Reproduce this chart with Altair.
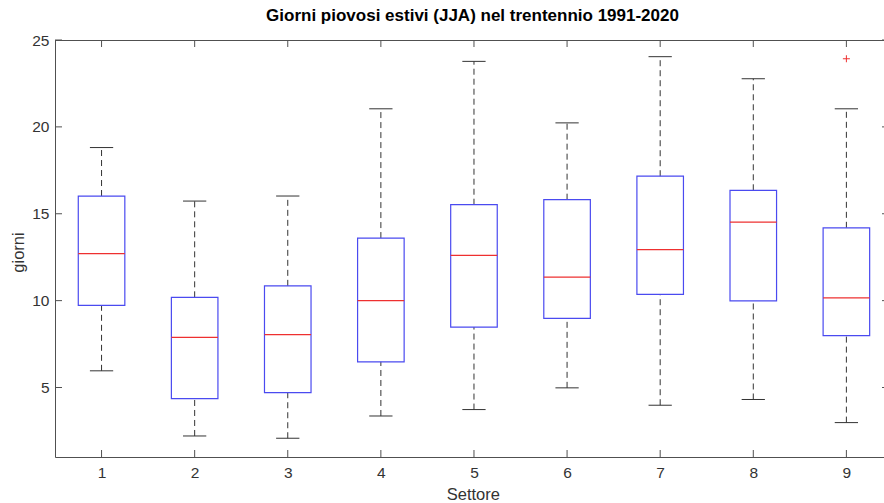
import altair as alt
import pandas as pd

# ---- data ----
settore = [1, 2, 3, 4, 5, 6, 7, 8, 9]
baffo_inf = [5.96, 2.21, 2.08, 3.36, 3.73, 4.98, 3.98, 4.31, 2.98]
q1 = [9.73, 4.36, 4.71, 6.48, 8.48, 8.98, 10.36, 9.98, 7.98]
mediana = [12.71, 7.88, 8.04, 10.0, 12.61, 11.35, 12.94, 14.52, 10.16]
q3 = [16.02, 10.19, 10.85, 13.6, 15.52, 15.81, 17.16, 16.35, 14.19]
baffo_sup = [18.81, 15.73, 16.02, 21.04, 23.77, 20.23, 24.04, 22.77, 21.04]
outlier_settore = [9]
outlier_valore = [23.92]
x_ticks = [1, 2, 3, 4, 5, 6, 7, 8, 9]
y_ticks = [5, 10, 15, 20, 25]

W, H = 829, 417
FONT = "Liberation Sans"
AX = "#505050"
TXT = "#333333"

df = pd.DataFrame({
    "settore": settore, "lo": baffo_inf, "q1": q1,
    "med": mediana, "q3": q3, "hi": baffo_sup,
})
df_out = pd.DataFrame({"settore": outlier_settore, "v": outlier_valore})

xs = alt.Scale(domain=[0.5, 9.404], nice=False, zero=False)
ys = alt.Scale(domain=[1, 25], nice=False, zero=False)

xax = alt.Axis(values=x_ticks, format="d", title="Settore", tickSize=0, grid=False,
               labelPadding=8, labelFontSize=15.5, labelFont=FONT, labelColor=TXT,
               domainColor=AX, titleFont=FONT, titleFontSize=16.5, titleFontWeight="normal",
               titleColor=TXT, titleX=417.8, titleY=42, titleBaseline="alphabetic",
               titleAnchor="start", titleAlign="center")
yax = alt.Axis(values=y_ticks, format="d", title="giorni", tickSize=0, grid=False,
               labelPadding=6, labelFontSize=15.5, labelFont=FONT, labelColor=TXT,
               domainColor=AX, titleFont=FONT, titleFontSize=16.5, titleFontWeight="normal",
               titleColor=TXT, titleX=-29, titleY=212, titleAngle=270,
               titleBaseline="bottom", titleAlign="center")


def X(field):
    return alt.X(field, scale=xs, axis=xax)


def Y(field):
    return alt.Y(field, scale=ys, axis=yax)


base = alt.Chart(df).transform_calculate(
    xl="datum.settore - 0.25", xr="datum.settore + 0.25",
    cl="datum.settore - 0.125", cr="datum.settore + 0.125",
)

upper = base.mark_rule(strokeDash=[6, 4], color="#333333", strokeWidth=1).encode(
    x=X("settore:Q"), y=Y("q3:Q"), y2="hi:Q",
)
lower = base.mark_rule(strokeDash=[6, 4], color="#333333", strokeWidth=1).encode(
    x=X("settore:Q"), y=Y("lo:Q"), y2="q1:Q",
)
cap_hi = base.mark_rule(color="#333333", strokeWidth=1).encode(
    x=X("cl:Q"), x2="cr:Q", y=Y("hi:Q"),
)
cap_lo = base.mark_rule(color="#333333", strokeWidth=1).encode(
    x=X("cl:Q"), x2="cr:Q", y=Y("lo:Q"),
)
box = base.mark_rect(filled=False, stroke="#4a4af0", strokeWidth=1.2).encode(
    x=X("xl:Q"), x2="xr:Q", y=Y("q1:Q"), y2="q3:Q",
)
med = base.mark_rule(color="#ee3030", strokeWidth=1.2).encode(
    x=X("xl:Q"), x2="xr:Q", y=Y("med:Q"),
)
out = alt.Chart(df_out).mark_point(
    shape="M-1,0L1,0M0,-1L0,1", filled=False, stroke="#ee3030", strokeWidth=1, size=49, opacity=1
).encode(
    x=X("settore:Q"), y=Y("v:Q"),
)

xt_df = pd.DataFrame({"t": x_ticks})
yt_df = pd.DataFrame({"t": y_ticks})
xt_bot = alt.Chart(xt_df).mark_rule(color=AX).encode(
    x=X("t:Q"), y=alt.value(H), y2=alt.value(H - 7))
xt_top = alt.Chart(xt_df).mark_rule(color=AX).encode(
    x=X("t:Q"), y=alt.value(0), y2=alt.value(7))
yt_left = alt.Chart(yt_df).mark_rule(color=AX).encode(
    y=Y("t:Q"), x=alt.value(0), x2=alt.value(7))
yt_right = alt.Chart(yt_df).mark_rule(color=AX).encode(
    y=Y("t:Q"), x=alt.value(W - 2), x2=alt.value(W))
top_line = alt.Chart(pd.DataFrame({"t": [0]})).mark_rule(color=AX).encode(
    x=alt.value(0), x2=alt.value(W), y=alt.value(0.5))

chart = alt.layer(
    upper, lower, cap_hi, cap_lo, box, med, out,
    xt_bot, xt_top, yt_left, yt_right, top_line,
).properties(
    width=W, height=H,
    autosize="none",
    padding={"left": 55, "top": 40, "right": 0, "bottom": 46},
    title=alt.TitleParams(
        "Giorni piovosi estivi (JJA) nel trentennio 1991-2020",
        font=FONT, fontSize=17, fontWeight="bold", color="black",
        anchor="middle", dx=3, dy=14, offset=9, baseline="alphabetic",
    ),
).configure_view(stroke="transparent").configure(background="white")

chart.save("out.html", embed_options={"renderer": "svg", "actions": False})
